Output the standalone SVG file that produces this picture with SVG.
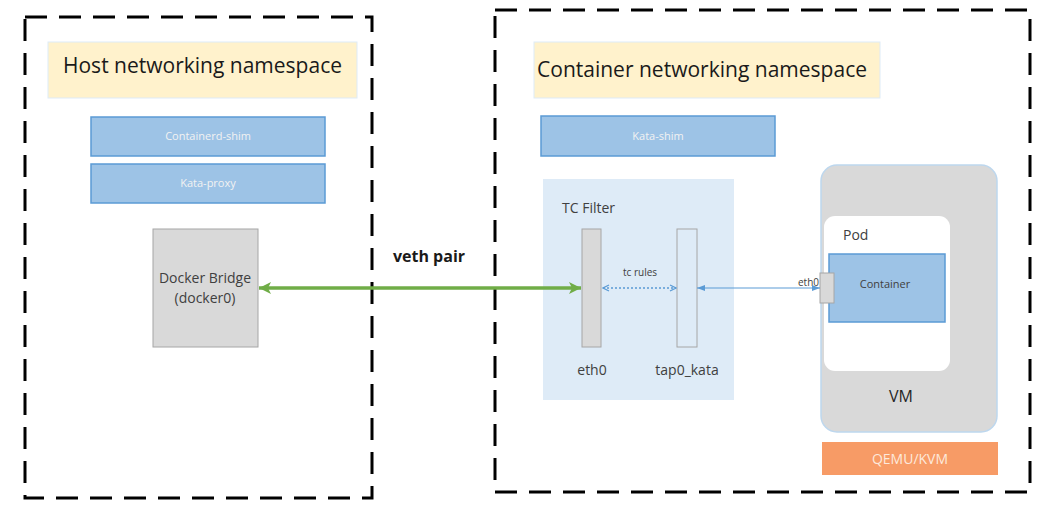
<svg xmlns="http://www.w3.org/2000/svg" width="1051" height="512" viewBox="0 0 1051 512">
<defs>
<style>
.ns{fill:none;stroke:#000;stroke-width:3;stroke-dasharray:22 12}
.title{fill:#fff2cc;stroke:#deebf7;stroke-width:1}
.tt{font-family:"Open Sans","Liberation Sans",sans-serif;font-size:21px;fill:#1a1a1a}
.blue{fill:#9dc3e6;stroke:#5b9bd5;stroke-width:1.5}
.bt{font-family:"Open Sans","Liberation Sans",sans-serif;font-size:11px;fill:#f2f2f2;text-anchor:middle}
.lbl{font-family:"Open Sans","Liberation Sans",sans-serif;font-size:14px;fill:#404040}
.gray{fill:#d9d9d9;stroke:#a6a6a6;stroke-width:1}
</style>
<marker id="ga" viewBox="0 0 12 12" refX="12" refY="6" markerWidth="12" markerHeight="12" markerUnits="userSpaceOnUse" orient="auto-start-reverse">
<path d="M0,0 L12,6 L0,12 L3,6 Z" fill="#70ad47"/>
</marker>
<marker id="ba" viewBox="0 0 8 8" refX="8" refY="4" markerWidth="8" markerHeight="8" markerUnits="userSpaceOnUse" orient="auto-start-reverse">
<path d="M0,1 L8,4 L0,7 Z" fill="#5b9bd5"/>
</marker>
<marker id="bo" viewBox="0 0 8 8" refX="7" refY="4" markerWidth="8" markerHeight="8" markerUnits="userSpaceOnUse" orient="auto-start-reverse">
<path d="M1,1 L7,4 L1,7" fill="none" stroke="#5b9bd5" stroke-width="1.3"/>
</marker>
</defs>
<rect width="1051" height="512" fill="#fff"/>

<g id="host-ns">
<rect class="ns" x="25" y="17" width="347" height="481"/>
<rect class="title" x="48" y="42" width="309" height="56"/>
<text class="tt" x="63" y="73" textLength="279" lengthAdjust="spacingAndGlyphs">Host networking namespace</text>
</g>
<g id="containerd-shim">
<rect class="blue" x="91" y="117" width="234" height="39"/>
<text class="bt" x="208" y="140">Containerd-shim</text>
</g>
<g id="kata-proxy">
<rect class="blue" x="91" y="164" width="234" height="39"/>
<text class="bt" x="208" y="187">Kata-proxy</text>
</g>
<g id="docker-bridge">
<rect class="gray" x="153" y="229" width="105" height="118" stroke="#bfbfbf"/>
<text class="lbl" x="205" y="283" text-anchor="middle">Docker Bridge</text>
<text class="lbl" x="205" y="303" text-anchor="middle">(docker0)</text>
</g>

<g id="container-ns">
<rect class="ns" x="495" y="10" width="535" height="482"/>
<rect class="title" x="534" y="42" width="346" height="56"/>
<text class="tt" x="537" y="77" textLength="330" lengthAdjust="spacingAndGlyphs">Container networking namespace</text>
</g>
<g id="kata-shim">
<rect class="blue" x="541" y="116" width="234" height="40"/>
<text class="bt" x="658" y="140">Kata-shim</text>
</g>
<g id="tc-filter">
<rect x="543" y="179" width="191" height="221" fill="#deebf7"/>
<text class="lbl" x="562" y="213">TC Filter</text>
</g>
<g id="eth0">
<rect class="gray" x="582" y="229" width="19" height="118"/>
<text class="lbl" x="592" y="375" text-anchor="middle">eth0</text>
</g>
<g id="tap0-kata">
<rect x="677" y="229" width="20" height="118" fill="#deebf7" stroke="#a6a6a6" stroke-width="1"/>
<text class="lbl" x="687" y="375" text-anchor="middle">tap0_kata</text>
</g>
<g id="vm">
<rect x="821" y="165" width="176" height="267" rx="16" fill="#d9d9d9" stroke="#bdd7ee" stroke-width="1.5"/>
<text x="901" y="402" text-anchor="middle" font-family="'Open Sans','Liberation Sans',sans-serif" font-size="16" fill="#262626">VM</text>
</g>
<g id="pod">
<rect x="824" y="216" width="126" height="155" rx="11" fill="#fff"/>
<text class="lbl" x="843" y="240" fill="#262626">Pod</text>
</g>
<g id="container">
<rect class="blue" x="829" y="254" width="116" height="68"/>
<text x="885" y="288" text-anchor="middle" font-family="'Open Sans','Liberation Sans',sans-serif" font-size="11" fill="#404040">Container</text>
</g>
<g id="vm-eth0">
<rect class="gray" x="820" y="273" width="14" height="30"/>
<text x="819" y="286" text-anchor="end" font-family="'Open Sans','Liberation Sans',sans-serif" font-size="10" fill="#404040">eth0</text>
</g>
<g id="qemu">
<rect x="822" y="442" width="176" height="33" fill="#f79b66"/>
<text x="910" y="464" text-anchor="middle" font-family="'Open Sans','Liberation Sans',sans-serif" font-size="14" fill="#fde9dc">QEMU/KVM</text>
</g>

<g id="connectors">
<line x1="259" y1="288" x2="581" y2="288" stroke="#70ad47" stroke-width="3.5" marker-start="url(#ga)" marker-end="url(#ga)"/>
<text x="429" y="262" text-anchor="middle" font-family="'Open Sans','Liberation Sans',sans-serif" font-size="16" font-weight="bold" fill="#1a1a1a">veth pair</text>
<line x1="603" y1="288" x2="676" y2="288" stroke="#5b9bd5" stroke-width="1.3" stroke-dasharray="2 2" marker-start="url(#bo)" marker-end="url(#bo)"/>
<text x="640" y="276" text-anchor="middle" font-family="'Open Sans','Liberation Sans',sans-serif" font-size="10" fill="#404040">tc rules</text>
<line x1="697" y1="288" x2="820" y2="288" stroke="#5b9bd5" stroke-width="1" marker-start="url(#ba)" marker-end="url(#ba)"/>
</g>
</svg>
